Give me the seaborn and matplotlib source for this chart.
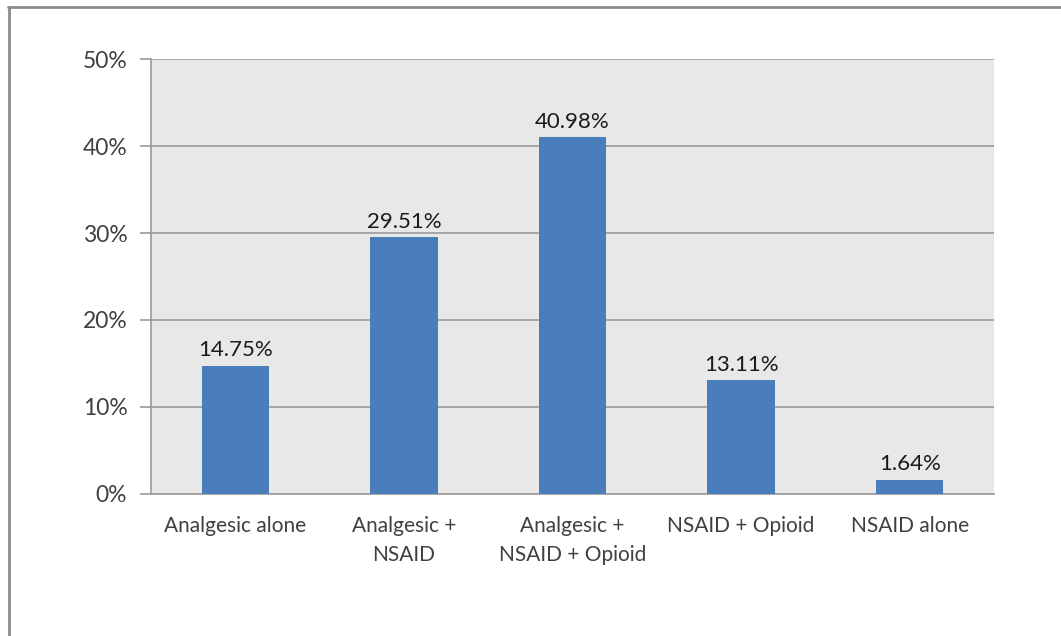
import matplotlib
matplotlib.use("Agg")
import matplotlib.pyplot as plt
import matplotlib.ticker as mticker
from matplotlib.lines import Line2D
import pandas as pd
import seaborn as sns

categories = ['Analgesic alone', 'Analgesic +\nNSAID', 'Analgesic +\nNSAID + Opioid',
              'NSAID + Opioid', 'NSAID alone']
percent = [14.75, 29.51, 40.98, 13.11, 1.64]
y_ticks = [0, 10, 20, 30, 40, 50]

df = pd.DataFrame({'Treatment': categories, 'Percent': percent})

sns.set_style('white')
plt.rcParams['font.family'] = ['Lato', 'DejaVu Sans']

fig = plt.figure(figsize=(10.61, 6.36), dpi=100)
ax = fig.add_axes([0.1423, 0.2233, 0.7945, 0.6839])
ax.set_facecolor('#e8e8e8')

sns.barplot(data=df, x='Treatment', y='Percent', color='#4a7ebb', width=0.4,
            saturation=1, linewidth=0, ax=ax, zorder=3)

ax.set_ylim(0, 50)
ax.set_xlim(-0.5, len(categories) - 0.5)
ax.set_yticks(y_ticks)
ax.yaxis.set_major_formatter(mticker.FuncFormatter(lambda v, p: f'{v:.0f}%'))
ax.grid(axis='y', color='#9a9a9a', linewidth=1.2, zorder=1)
ax.set_axisbelow(True)

# category ticks sit between the groups, labels in the middle
ax.set_xticks([i - 0.5 for i in range(len(categories) + 1)])
ax.set_xticklabels([])
ax.set_xticks(range(len(categories)), minor=True)
ax.set_xticklabels(categories, minor=True, fontsize=15, color='#404040', linespacing=1.55)
ax.tick_params(axis='x', which='minor', length=0, pad=16)
ax.tick_params(axis='x', which='major', length=8, width=1.2, color='#9a9a9a', direction='out')
ax.tick_params(axis='y', length=8, width=1.2, color='#9a9a9a', labelsize=16.5,
               labelcolor='#404040', pad=9, left=True)

for s in ['top', 'right']:
    ax.spines[s].set_visible(False)
for s in ['left', 'bottom']:
    ax.spines[s].set_color('#9a9a9a')
    ax.spines[s].set_linewidth(1.2)

ax.set_xlabel('')
ax.set_ylabel('')

for i, v in enumerate(percent):
    ax.text(i, v + 0.6, f'{v:.2f}%', ha='center', va='bottom', fontsize=16, color='#1a1a1a')

# outer frame (top and left edges only)
fig.add_artist(Line2D([0.0075, 1.0], [0.989, 0.989], transform=fig.transFigure,
                      color='#8c8c8c', linewidth=2))
fig.add_artist(Line2D([0.0085, 0.0085], [0.0, 0.989], transform=fig.transFigure,
                      color='#8c8c8c', linewidth=2))

fig.savefig('out.png', dpi=100)
